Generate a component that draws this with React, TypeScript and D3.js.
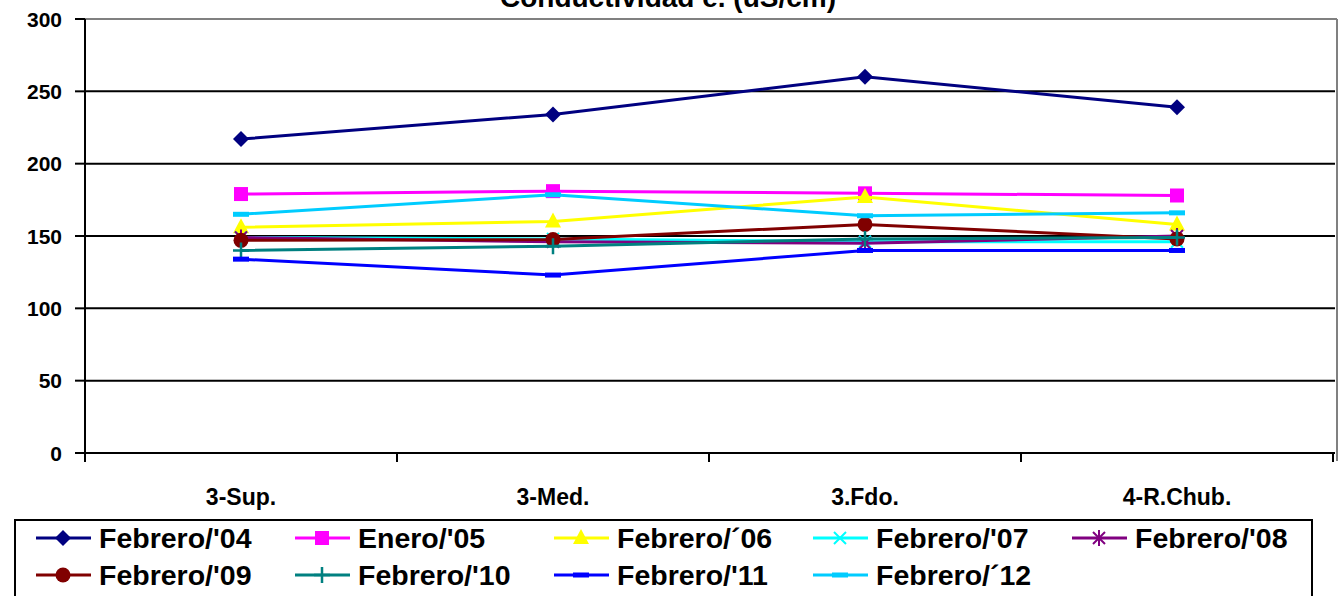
import React from "react";
import * as d3 from "d3";

const categories = ["3-Sup.", "3-Med.", "3.Fdo.", "4-R.Chub."];
const yTicks = [0, 50, 100, 150, 200, 250, 300];

const seriesNames = [
  "Febrero/'04",
  "Enero/'05",
  "Febrero/´06",
  "Febrero/'07",
  "Febrero/'08",
  "Febrero/'09",
  "Febrero/'10",
  "Febrero/'11",
  "Febrero/´12",
];
const seriesColors = [
  "#000080",
  "#FF00FF",
  "#FFFF00",
  "#00FFFF",
  "#800080",
  "#800000",
  "#008080",
  "#0000FF",
  "#00CCFF",
];
const seriesMarkers = ["diamond", "square", "triangle", "x", "star", "circle", "plus", "dash", "dash"];

const feb04 = [217, 234, 260, 239];
const ene05 = [179, 181, 179.5, 178];
const feb06 = [156, 160, 177, 158];
const feb07 = [149, 148, 146, 146];
const feb08 = [149, 146, 145, 150];
const feb09 = [147, 147.5, 158, 148];
const feb10 = [140, 143, 148, 149];
const feb11 = [134, 123, 140, 140];
const feb12 = [165, 178.5, 164, 166];
const seriesValues = [feb04, ene05, feb06, feb07, feb08, feb09, feb10, feb11, feb12];

const W = 1340;
const H = 596;
const FONT = "'Liberation Sans', Arial, sans-serif";

function Marker({ type, x, y, color }: { type: string; x: number; y: number; color: string }) {
  switch (type) {
    case "diamond":
      return <path d={`M${x},${y - 8}L${x + 8},${y}L${x},${y + 8}L${x - 8},${y}Z`} fill={color} />;
    case "square":
      return <rect x={x - 7} y={y - 7} width={14} height={14} fill={color} />;
    case "triangle":
      return <path d={`M${x},${y - 9}L${x + 8},${y + 6}L${x - 8},${y + 6}Z`} fill={color} />;
    case "x":
      return (
        <path d={`M${x - 6},${y - 6}L${x + 6},${y + 6}M${x - 6},${y + 6}L${x + 6},${y - 6}`} stroke={color} strokeWidth={2} />
      );
    case "star":
      return (
        <path
          d={`M${x - 6},${y - 6}L${x + 6},${y + 6}M${x - 6},${y + 6}L${x + 6},${y - 6}M${x},${y - 8}L${x},${y + 8}`}
          stroke={color}
          strokeWidth={2}
        />
      );
    case "circle":
      return <circle cx={x} cy={y} r={7.5} fill={color} />;
    case "plus":
      return <path d={`M${x - 8},${y}L${x + 8},${y}M${x},${y - 8}L${x},${y + 8}`} stroke={color} strokeWidth={2.5} />;
    case "dash":
      return <rect x={x - 8} y={y - 2.5} width={16} height={5} fill={color} />;
    default:
      return null;
  }
}

export default function App() {
  const left = 85;
  const right = 1333;
  const top = 19;
  const bottom = 453;
  const x = d3.scaleBand<string>().domain(categories).range([left, right]);
  const cx = (c: string) => (x(c) as number) + x.bandwidth() / 2;
  const y = d3.scaleLinear().domain([0, 300]).range([bottom, top]);
  const line = d3
    .line<number>()
    .x((_, i) => cx(categories[i]))
    .y((d) => y(d));

  const legendCols = 5;
  const colW = 259;

  return (
    <svg width={W} height={H} style={{ position: "absolute", left: 0, top: 0 }} fontFamily={FONT}>
      <rect width={W} height={H} fill="#fff" />
      <text x={668} y={7} textAnchor="middle" fontWeight="bold" fontSize={28}>
        Conductividad e. (uS/cm)
      </text>
      {/* plot border */}
      <line x1={left} x2={1337} y1={top} y2={top} stroke="#808080" strokeWidth={2} />
      <line x1={1337} x2={1337} y1={top} y2={bottom + 8} stroke="#808080" strokeWidth={2} />
      {/* gridlines */}
      {yTicks.filter((t) => t > 0 && t < 300).map((t) => (
        <line key={t} x1={left} x2={right + 2} y1={y(t)} y2={y(t)} stroke="#000" strokeWidth={2} />
      ))}
      {/* y axis */}
      <line x1={left} x2={left} y1={top} y2={bottom + 8} stroke="#000" strokeWidth={2} />
      {yTicks.map((t) => (
        <g key={t}>
          <line x1={left - 10} x2={left} y1={y(t)} y2={y(t)} stroke="#000" strokeWidth={2} />
          <text x={62} y={y(t)} textAnchor="end" dominantBaseline="central" fontWeight="bold" fontSize={21}>
            {t}
          </text>
        </g>
      ))}
      {/* x axis */}
      <line x1={left} x2={right + 2} y1={bottom} y2={bottom} stroke="#000" strokeWidth={2} />
      {categories.map((c) => (
        <line key={"t" + c} x1={x(c)} x2={x(c)} y1={bottom} y2={bottom + 9} stroke="#000" strokeWidth={2} />
      ))}
      <line x1={right} x2={right} y1={bottom} y2={bottom + 9} stroke="#000" strokeWidth={2} />
      {categories.map((c) => (
        <text key={c} x={cx(c)} y={505} textAnchor="middle" fontWeight="bold" fontSize={23}>
          {c}
        </text>
      ))}
      {/* series */}
      {seriesValues.map((vals, si) => (
        <g key={si}>
          <path d={line(vals) as string} fill="none" stroke={seriesColors[si]} strokeWidth={3} />
          {vals.map((v, i) => (
            <Marker key={i} type={seriesMarkers[si]} x={cx(categories[i])} y={y(v)} color={seriesColors[si]} />
          ))}
        </g>
      ))}
      {/* legend */}
      <rect x={15} y={520} width={1297} height={90} fill="#fff" stroke="#000" strokeWidth={2} />
      {seriesNames.map((name, si) => {
        const col = si % legendCols;
        const row = Math.floor(si / legendCols);
        const lx = 36 + col * colW;
        const ly = 538 + row * 37;
        return (
          <g key={name}>
            <line x1={lx} x2={lx + 55} y1={ly} y2={ly} stroke={seriesColors[si]} strokeWidth={3} />
            <Marker type={seriesMarkers[si]} x={lx + 27} y={ly} color={seriesColors[si]} />
            <text x={lx + 63} y={ly} dominantBaseline="central" fontWeight="bold" fontSize={28.5}>
              {name}
            </text>
          </g>
        );
      })}
    </svg>
  );
}
